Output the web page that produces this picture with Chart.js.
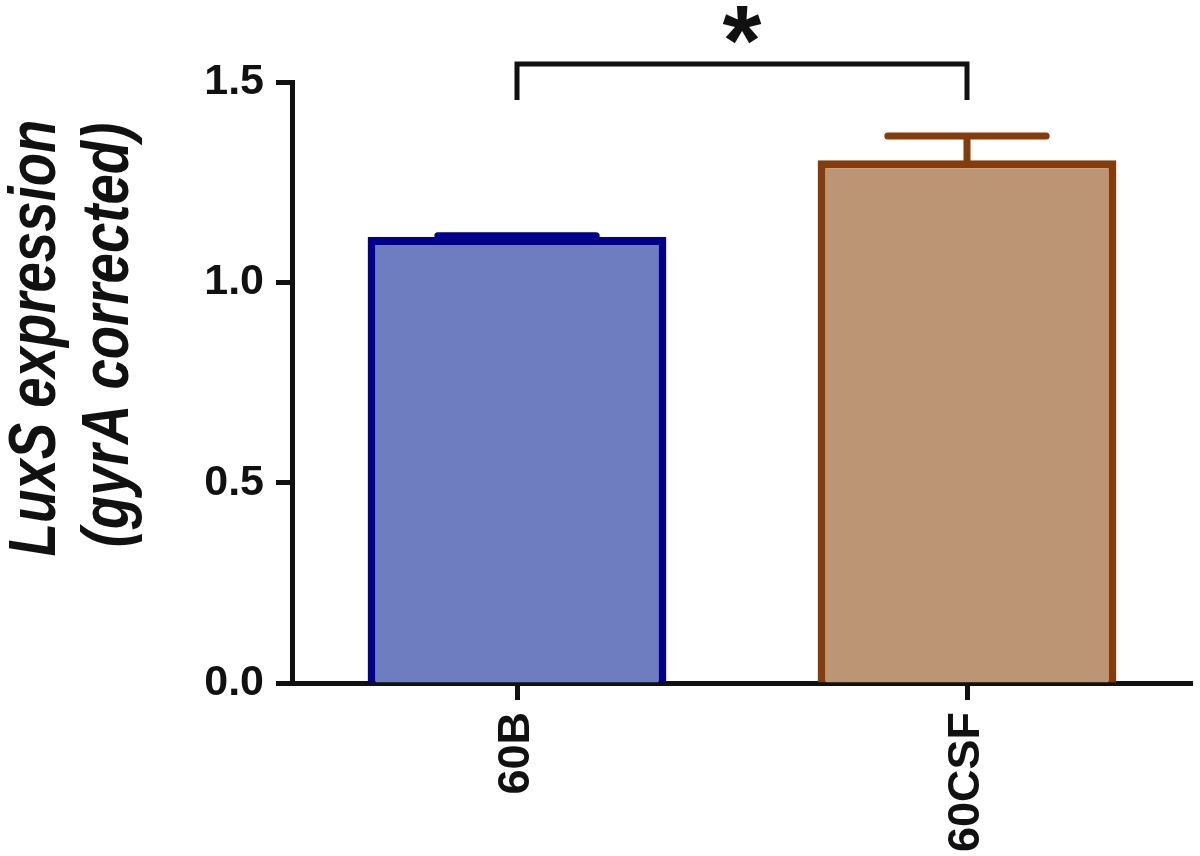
<!DOCTYPE html>
<html>
<head>
<meta charset="utf-8">
<script src="https://cdn.jsdelivr.net/npm/chart.js@4/dist/chart.umd.min.js"></script>
<style>
  html, body { margin: 0; padding: 0; background: #fff; }
  #wrap { width: 1200px; height: 856px; }
</style>
</head>
<body>
<div id="wrap"><canvas id="grafico" width="1200" height="856"></canvas></div>
<script>
// dados
const categorias = ["60B", "60CSF"];
const medias = [1.113, 1.305];
const erroSuperior = [1.116, 1.365];
const yTicks = [0, 0.5, 1.0, 1.5];
const tituloY = ["LuxS expression", "(gyrA corrected)"];
const significancia = "*";

const corPreenchimento = ["#6e7cc0", "#bc9674"];
const corBorda = ["#00008b", "#843c0c"];
const fonte = "'Liberation Sans', Arial, sans-serif";

// barras de erro (so a parte de cima)
const errorBars = {
    id: "errorBars",
    afterDatasetsDraw(chart) {
        const ctx = chart.ctx;
        const y = chart.scales.y;
        const meta = chart.getDatasetMeta(0);
        meta.data.forEach((bar, i) => {
            const yTopo = y.getPixelForValue(erroSuperior[i]);
            const meia = bar.width * 0.265;
            ctx.save();
            ctx.strokeStyle = corBorda[i];
            ctx.lineWidth = 7;
            ctx.lineCap = "round";
            ctx.beginPath();
            ctx.moveTo(bar.x, bar.y);
            ctx.lineTo(bar.x, yTopo);
            ctx.moveTo(bar.x - meia, yTopo);
            ctx.lineTo(bar.x + meia, yTopo);
            ctx.stroke();
            ctx.restore();
        });
    }
};

// colchete de significancia + titulo do eixo y
const extras = {
    id: "extras",
    afterDraw(chart) {
        const ctx = chart.ctx;
        const x = chart.scales.x;
        const y = chart.scales.y;
        const x1 = x.getPixelForValue(0);
        const x2 = x.getPixelForValue(1);
        const yLinha = y.getPixelForValue(1.545);
        const yPerna = y.getPixelForValue(1.455);
        ctx.save();
        ctx.strokeStyle = "#111";
        ctx.lineWidth = 5;
        ctx.lineJoin = "miter";
        ctx.beginPath();
        ctx.moveTo(x1, yPerna);
        ctx.lineTo(x1, yLinha);
        ctx.lineTo(x2, yLinha);
        ctx.lineTo(x2, yPerna);
        ctx.stroke();

        ctx.fillStyle = "#111";
        ctx.font = "bold 100px " + fonte;
        ctx.textAlign = "center";
        ctx.textBaseline = "alphabetic";
        ctx.fillText(significancia, (x1 + x2) / 2, 75);
        ctx.restore();

        // titulo Y em duas linhas, italico
        const linhas = [[55, 338], [128, 335]];
        tituloY.forEach((t, i) => {
            ctx.save();
            ctx.translate(linhas[i][0], linhas[i][1]);
            ctx.rotate(-Math.PI / 2);
            ctx.scale(0.827, 1);
            ctx.fillStyle = "#111";
            ctx.font = "italic bold 66px " + fonte;
            ctx.textAlign = "center";
            ctx.textBaseline = "alphabetic";
            ctx.fillText(t, 0, 0);
            ctx.restore();
        });
    }
};

new Chart(document.getElementById("grafico").getContext("2d"), {
    type: "bar",
    data: {
        labels: categorias,
        datasets: [{
            data: medias,
            backgroundColor: corPreenchimento,
            borderColor: corBorda,
            borderWidth: 8,
            barPercentage: 0.664,
            categoryPercentage: 1
        }]
    },
    options: {
        responsive: false,
        animation: false,
        layout: { padding: { top: 82, right: 8, bottom: 0, left: 0 } },
        plugins: {
            legend: { display: false },
            tooltip: { enabled: false }
        },
        scales: {
            x: {
                afterFit: s => { s.height = 173; },
                border: { display: true, color: "#111", width: 5 },
                grid: {
                    offset: false,
                    drawOnChartArea: false,
                    drawTicks: true,
                    tickLength: 17,
                    tickWidth: 5,
                    color: "#111"
                },
                ticks: {
                    minRotation: 90,
                    maxRotation: 90,
                    padding: 12,
                    color: "#111",
                    font: { family: fonte, size: 45, weight: "bold" }
                }
            },
            y: {
                min: 0,
                max: 1.5,
                afterFit: s => { s.width = 292; },
                afterBuildTicks: s => { s.ticks = yTicks.map(v => ({ value: v })); },
                border: { display: true, color: "#111", width: 5 },
                grid: {
                    drawOnChartArea: false,
                    drawTicks: true,
                    tickLength: 16,
                    tickWidth: 5,
                    color: "#111"
                },
                ticks: {
                    padding: 12,
                    color: "#111",
                    font: { family: fonte, size: 43, weight: "bold" },
                    callback: v => Number(v).toFixed(1)
                }
            }
        }
    },
    plugins: [errorBars, extras]
});
</script>
</body>
</html>
